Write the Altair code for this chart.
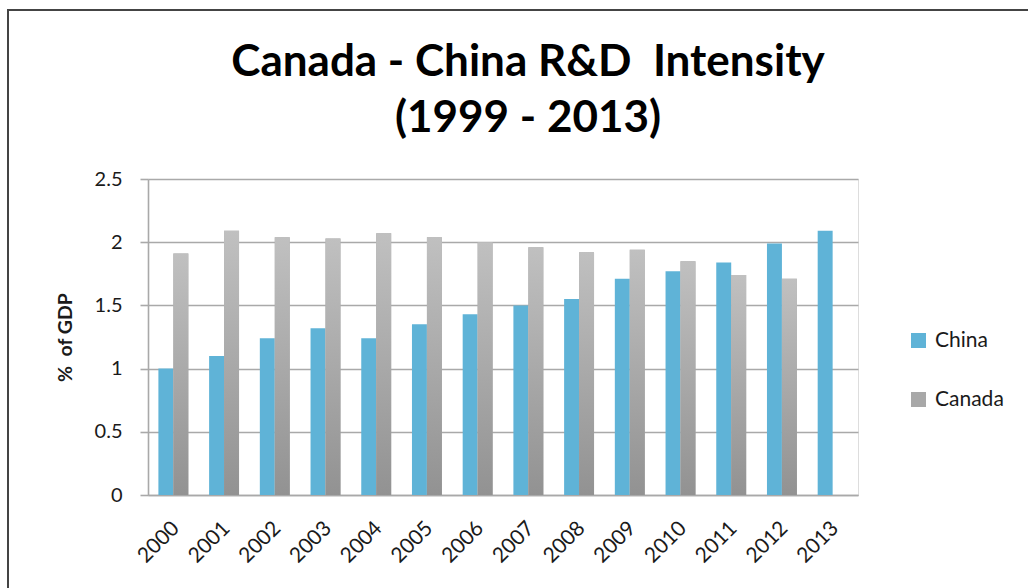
import altair as alt
import pandas as pd

# R&D spending as a share of GDP, by year
years = ["2000", "2001", "2002", "2003", "2004", "2005", "2006",
         "2007", "2008", "2009", "2010", "2011", "2012", "2013"]
china = [1.00, 1.10, 1.24, 1.32, 1.24, 1.35, 1.43,
         1.50, 1.55, 1.71, 1.77, 1.84, 1.99, 2.09]
canada = [1.91, 2.09, 2.04, 2.03, 2.07, 2.04, 2.00,
          1.96, 1.92, 1.94, 1.85, 1.74, 1.71, None]

series_names = ["China", "Canada"]
series_colors = ["#5fb3d7", "#a8a8a8"]
y_ticks = [0, 0.5, 1, 1.5, 2, 2.5]

rows = []
for yr, v in zip(years, china):
    rows.append({"year": yr, "series": "China", "value": v})
for yr, v in zip(years, canada):
    if v is not None:
        rows.append({"year": yr, "series": "Canada", "value": v})
df = pd.DataFrame(rows)

FONT = "Lato"
GRID = "#a9a9a9"
TEXT = "#1a1a1a"

x_enc = alt.X(
    "year:N",
    sort=years,
    scale=alt.Scale(paddingInner=0.41, paddingOuter=0.205),
    axis=alt.Axis(
        title=None, labelAngle=-45, ticks=False,
        domainColor=GRID, domainWidth=1.6,
        labelFont=FONT, labelFontSize=21, labelColor=TEXT,
        labelPadding=22, labelOffset=-5,
    ),
)
x_off = alt.XOffset("series:N", sort=series_names,
                    scale=alt.Scale(domain=series_names))
y_enc = alt.Y(
    "value:Q",
    scale=alt.Scale(domain=[0, 2.5], nice=False),
    axis=alt.Axis(
        title="%\u00a0 of GDP", values=y_ticks, format="~g",
        grid=True, gridColor=GRID, gridWidth=1.6,
        domainColor=GRID, domainWidth=1.6,
        tickColor=GRID, tickWidth=1.6, tickSize=8,
        labelFont=FONT, labelFontSize=20, labelColor=TEXT, labelPadding=18,
        titleFont=FONT, titleFontSize=19.5, titleFontWeight="bold",
        titleColor=TEXT, titlePadding=19,
    ),
)

bars = alt.Chart(df).mark_bar().encode(
    x=x_enc,
    xOffset=x_off,
    y=y_enc,
    color=alt.Color(
        "series:N",
        scale=alt.Scale(domain=series_names, range=series_colors),
        legend=alt.Legend(
            title=None, orient="none", legendX=760, legendY=151,
            symbolType="square", symbolSize=225, symbolStrokeWidth=0,
            labelFont=FONT, labelFontSize=21, labelColor=TEXT,
            labelOffset=6, rowPadding=37, padding=0,
        ),
    ),
)

# Canada bars get a light-to-dark vertical gradient
canada_grad = alt.LinearGradient(
    gradient="linear",
    stops=[alt.GradientStop(color="#c0c0c0", offset=0),
           alt.GradientStop(color="#929292", offset=1)],
    x1=0, x2=0, y1=0, y2=1,
)
canada_bars = alt.Chart(df).transform_filter(
    alt.datum.series == "Canada"
).mark_bar(color=canada_grad).encode(x=x_enc, xOffset=x_off, y=y_enc)

# outer frame around the whole chart
frame = alt.Chart(pd.DataFrame({"k": [0]})).mark_rect(
    filled=False, stroke="#444444", strokeWidth=2
).encode(
    x=alt.value(-140), x2=alt.value(885),
    y=alt.value(-169), y2=alt.value(414),
)

chart = alt.layer(frame, bars, canada_bars).properties(
    width=710,
    height=316,
    padding={"left": 148, "top": 179, "right": 170, "bottom": 93},
    autosize=alt.AutoSizeParams(type="none"),
    title=alt.Title(
        ["Canada - China R&D\u00a0 Intensity", "(1999 - 2013)"],
        font=FONT, fontSize=44, fontWeight="bold", color="#000000",
        lineHeight=56, anchor="middle", dx=25, dy=152, offset=20,
    ),
).configure_view(stroke=None).configure(background="white")

chart.save("out.html", embed_options={"renderer": "svg", "actions": False})
